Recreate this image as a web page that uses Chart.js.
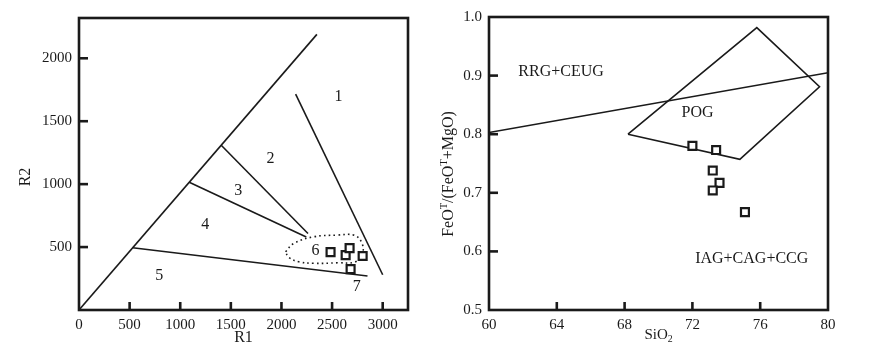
<!DOCTYPE html>
<html>
<head>
<meta charset="utf-8">
<script src="https://cdn.jsdelivr.net/npm/chart.js@4.4.0/dist/chart.umd.min.js"></script>
<style>
  body { margin: 0; background: #fff; width: 875px; height: 356px; overflow: hidden; position: relative; }
  canvas { position: absolute; top: 0; }
  #r1r2 { left: 0; }
  #feo { left: 440px; }
</style>
</head>
<body>
<canvas id="r1r2" width="440" height="356"></canvas>
<canvas id="feo" width="435" height="356"></canvas>
<script>
var serif = '"Liberation Serif", "Times New Roman", serif'
var ink = '#1a1a1a'

// ---- R1-R2 diagram (left) ----
var r1Samples = [2485, 2634, 2673, 2802, 2683]
var r2Samples = [460, 436, 492, 429, 325]

var diagonalR1 = [0, 2350]
var diagonalR2 = [0, 2190]
var line1R1 = [2140, 3000]
var line1R2 = [1715, 280]
var line2R1 = [1405, 2262]
var line2R2 = [1309, 608]
var line3R1 = [1089, 2245]
var line3R2 = [1015, 580]
var line5R1 = [530, 2850]
var line5R2 = [494, 270]

// dotted field 6 outline, read point by point
var field6R1 = [2040, 2122, 2320, 2551, 2716, 2789, 2802, 2732, 2551, 2320, 2171, 2072, 2040]
var field6R2 = [463, 529, 582, 595, 595, 542, 450, 383, 375, 371, 383, 418, 463]

var fieldNames = ['1', '2', '3', '4', '5', '6', '7']
var fieldR1 = [2564, 1891, 1574, 1248, 792, 2337, 2743]
var fieldR2 = [1690, 1198, 944, 675, 270, 468, 183]

var r1Labels = [0, 500, 1000, 1500, 2000, 2500, 3000]
var r2Labels = [500, 1000, 1500, 2000]
var r1Ticks = [500, 1000, 1500, 2000, 2500, 3000]
var r2Ticks = [500, 1000, 1500, 2000]

// ---- SiO2 vs FeOT/(FeOT+MgO) (right) ----
var sio2Samples = [72.0, 73.4, 73.2, 73.6, 73.2, 75.1]
var ratioSamples = [0.780, 0.773, 0.738, 0.717, 0.704, 0.667]

var dividerSiO2 = [60, 80]
var dividerRatio = [0.803, 0.905]
var pogSiO2 = [68.2, 75.8, 79.5, 74.8, 68.2]
var pogRatio = [0.800, 0.982, 0.881, 0.757, 0.800]

var groupNames = ['RRG+CEUG', 'POG', 'IAG+CAG+CCG']
var groupSiO2 = [64.25, 72.3, 75.5]
var groupRatio = [0.907, 0.836, 0.587]

var sio2Labels = [60, 64, 68, 72, 76, 80]
var ratioLabels = [0.5, 0.6, 0.7, 0.8, 0.9, 1.0]
var sio2Ticks = [64, 68, 72, 76]
var ratioTicks = [0.6, 0.7, 0.8, 0.9]


function pairs(xs, ys) {
    return xs.map(function (x, i) { return { x: x, y: ys[i] } })
}

function lineSet(xs, ys, extra) {
    var ds = {
        data: pairs(xs, ys),
        showLine: true,
        borderColor: ink,
        borderWidth: 1.6,
        pointRadius: 0,
        fill: false
    }
    for (var k in extra) ds[k] = extra[k]
    return ds
}

function sampleSet(xs, ys) {
    return {
        data: pairs(xs, ys),
        pointStyle: 'rect',
        pointRadius: 5.6,
        pointBorderWidth: 2.2,
        pointBorderColor: ink,
        pointBackgroundColor: '#fff'
    }
}

function paperPlugin(xMarks, yMarks, notes) {
    return {
        id: 'paper',
        afterDatasetsDraw: function (chart) {
            var ctx = chart.ctx
            var a = chart.chartArea
            var xs = chart.scales.x
            var ys = chart.scales.y
            ctx.save()
            ctx.strokeStyle = ink
            ctx.lineWidth = 2.6
            ctx.strokeRect(a.left, a.top, a.right - a.left, a.bottom - a.top)
            xMarks.forEach(function (v) {
                var px = xs.getPixelForValue(v)
                ctx.beginPath()
                ctx.moveTo(px, a.bottom)
                ctx.lineTo(px, a.bottom - 8)
                ctx.stroke()
            })
            yMarks.forEach(function (v) {
                var py = ys.getPixelForValue(v)
                ctx.beginPath()
                ctx.moveTo(a.left, py)
                ctx.lineTo(a.left + 9, py)
                ctx.stroke()
            })
            ctx.fillStyle = ink
            ctx.textAlign = 'center'
            ctx.textBaseline = 'middle'
            ctx.font = '16px ' + serif
            for (var i = 0; i < notes.names.length; i++) {
                ctx.fillText(notes.names[i], xs.getPixelForValue(notes.xs[i]), ys.getPixelForValue(notes.ys[i]))
            }
            notes.titles(ctx, a)
            ctx.restore()
        }
    }
}

// draws a run of [text, shift] pieces, shift <0 = superscript, >0 = subscript
function richText(ctx, parts, x, y, size) {
    var widths = parts.map(function (p) {
        ctx.font = (p[1] ? size * 0.65 : size) + 'px ' + serif
        return ctx.measureText(p[0]).width
    })
    var total = widths.reduce(function (s, w) { return s + w }, 0)
    var cx = x - total / 2
    ctx.textAlign = 'left'
    parts.forEach(function (p, i) {
        ctx.font = (p[1] ? size * 0.65 : size) + 'px ' + serif
        ctx.fillText(p[0], cx, y + p[1])
        cx += widths[i]
    })
}

function axisSetup(min, max, labels, fmt, fixSize, isX) {
    return {
        type: 'linear',
        min: min,
        max: max,
        grid: { drawOnChartArea: false, drawTicks: false },
        border: { display: false },
        ticks: {
            autoSkip: false,
            maxRotation: 0,
            color: ink,
            padding: isX ? 6 : 7,
            font: { family: serif, size: 15 },
            callback: fmt
        },
        afterBuildTicks: function (s) {
            s.ticks = labels.map(function (v) { return { value: v } })
        },
        afterFit: function (s) {
            if (isX) s.height = fixSize
            else s.width = fixSize
        }
    }
}

function baseOptions(pad, xAxis, yAxis) {
    return {
        responsive: false,
        animation: false,
        events: [],
        layout: { padding: pad },
        plugins: { legend: { display: false }, tooltip: { enabled: false } },
        scales: { x: xAxis, y: yAxis }
    }
}

new Chart(document.getElementById('r1r2'), {
    type: 'scatter',
    data: {
        datasets: [
            sampleSet(r1Samples, r2Samples),
            lineSet(diagonalR1, diagonalR2),
            lineSet(line1R1, line1R2),
            lineSet(line2R1, line2R2),
            lineSet(line3R1, line3R2),
            lineSet(line5R1, line5R2),
            lineSet(field6R1, field6R2, { borderDash: [1.6, 3.2], borderWidth: 1.6, tension: 0.4 })
        ]
    },
    options: baseOptions(
        { top: 18, right: 32, left: 0, bottom: 0 },
        axisSetup(0, 3250, r1Labels, function (v) { return String(v) }, 46, true),
        axisSetup(0, 2320, r2Labels, function (v) { return String(v) }, 79, false)
    ),
    plugins: [paperPlugin(r1Ticks, r2Ticks, {
        names: fieldNames, xs: fieldR1, ys: fieldR2,
        titles: function (ctx, a) {
            ctx.font = '16px ' + serif
            ctx.textAlign = 'center'
            ctx.fillText('R1', (a.left + a.right) / 2, 338)
            ctx.save()
            ctx.translate(26, 177)
            ctx.rotate(-Math.PI / 2)
            ctx.fillText('R2', 0, 0)
            ctx.restore()
        }
    })]
})

new Chart(document.getElementById('feo'), {
    type: 'scatter',
    data: {
        datasets: [
            sampleSet(sio2Samples, ratioSamples),
            lineSet(dividerSiO2, dividerRatio),
            lineSet(pogSiO2, pogRatio)
        ]
    },
    options: baseOptions(
        { top: 17, right: 47, left: 0, bottom: 0 },
        axisSetup(60, 80, sio2Labels, function (v) { return String(v) }, 46, true),
        axisSetup(0.5, 1.0, ratioLabels, function (v) { return v.toFixed(1) }, 49, false)
    ),
    plugins: [paperPlugin(sio2Ticks, ratioTicks, {
        names: groupNames, xs: groupSiO2, ys: groupRatio,
        titles: function (ctx, a) {
            richText(ctx, [['SiO', 0], ['2', 4]], (a.left + a.right) / 2, 335, 15)
            ctx.save()
            ctx.translate(9, 174)
            ctx.rotate(-Math.PI / 2)
            richText(ctx, [['FeO', 0], ['T', -5], ['/(FeO', 0], ['T', -5], ['+MgO)', 0]], 0, 0, 16)
            ctx.restore()
        }
    })]
})
</script>
</body>
</html>
